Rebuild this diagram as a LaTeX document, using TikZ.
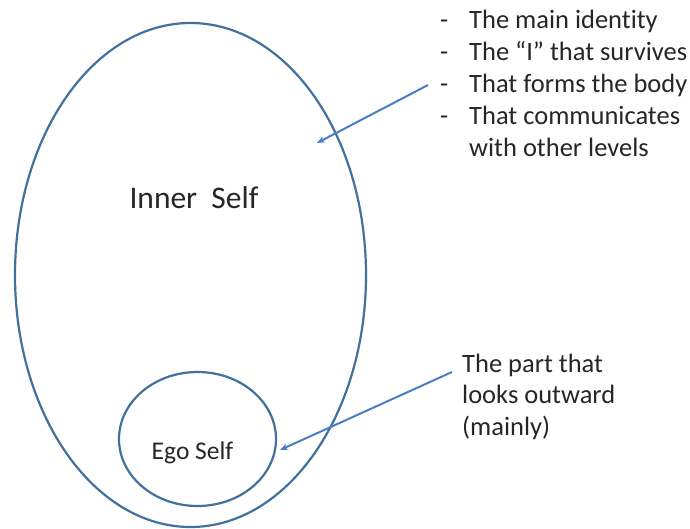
\documentclass[tikz,border=0pt]{standalone}
\usepackage{fontspec}
\setmainfont{Carlito}[Ligatures={NoCommon}]
\usetikzlibrary{shapes.geometric,arrows.meta}
\definecolor{outl}{HTML}{41719C}
\definecolor{arr}{HTML}{4A7EC4}
\definecolor{txt}{HTML}{262626}
\begin{document}
\begin{tikzpicture}[x=1pt,y=-1pt,
  ring/.style={ellipse,draw=outl,line width=2.2pt,inner sep=0pt},
  pointer/.style={draw=arr,line width=2pt,-{Stealth[length=8pt,width=6.5pt]}},
  txtline/.style={anchor=base west,inner sep=0pt,font=\fontsize{26.5}{32}\selectfont,text=txt},
  bigtxt/.style={anchor=base,inner sep=0pt,text=txt}]
\useasboundingbox (0,0) rectangle (690,529);
\fill[white] (0,0) rectangle (690,529);
\node[ring,minimum width=351pt,minimum height=504pt] (inner) at (190.5,275) {};
\node[ring,minimum width=157pt,minimum height=134pt] (ego) at (197.5,439) {};
\node[bigtxt,font=\fontsize{31.5}{36}\selectfont] (innerlbl) at (194,209) {Inner\ \ Self};
\node[bigtxt,font=\fontsize{25.5}{30}\selectfont] (egolbl) at (192.5,459) {Ego Self};
% list
\node[txtline] (d1) at (440,29) {-};
\node[txtline] (d2) at (440,61) {-};
\node[txtline] (d3) at (440,93) {-};
\node[txtline] (d4) at (440,125) {-};
\node[txtline] (l1) at (469,29) {The main identity};
\node[txtline] (l2) at (469,61) {The “I” that survives};
\node[txtline] (l3) at (469,93) {That forms the body};
\node[txtline] (l4) at (469,125) {That communicates};
\node[txtline] (l5) at (469,157) {with other levels};
% right text
\node[txtline] (r1) at (462,372) {The part that};
\node[txtline] (r2) at (462,403.5) {looks outward};
\node[txtline] (r3) at (462,435) {(mainly)};
% arrows
\coordinate (a1s) at (428,85);
\coordinate (a1e) at (317,143);
\coordinate (a2s) at (452,372);
\coordinate (a2e) at (280,450);
\draw[pointer] (a1s) -- (a1e);
\draw[pointer] (a2s) -- (a2e);
\end{tikzpicture}
\end{document}
